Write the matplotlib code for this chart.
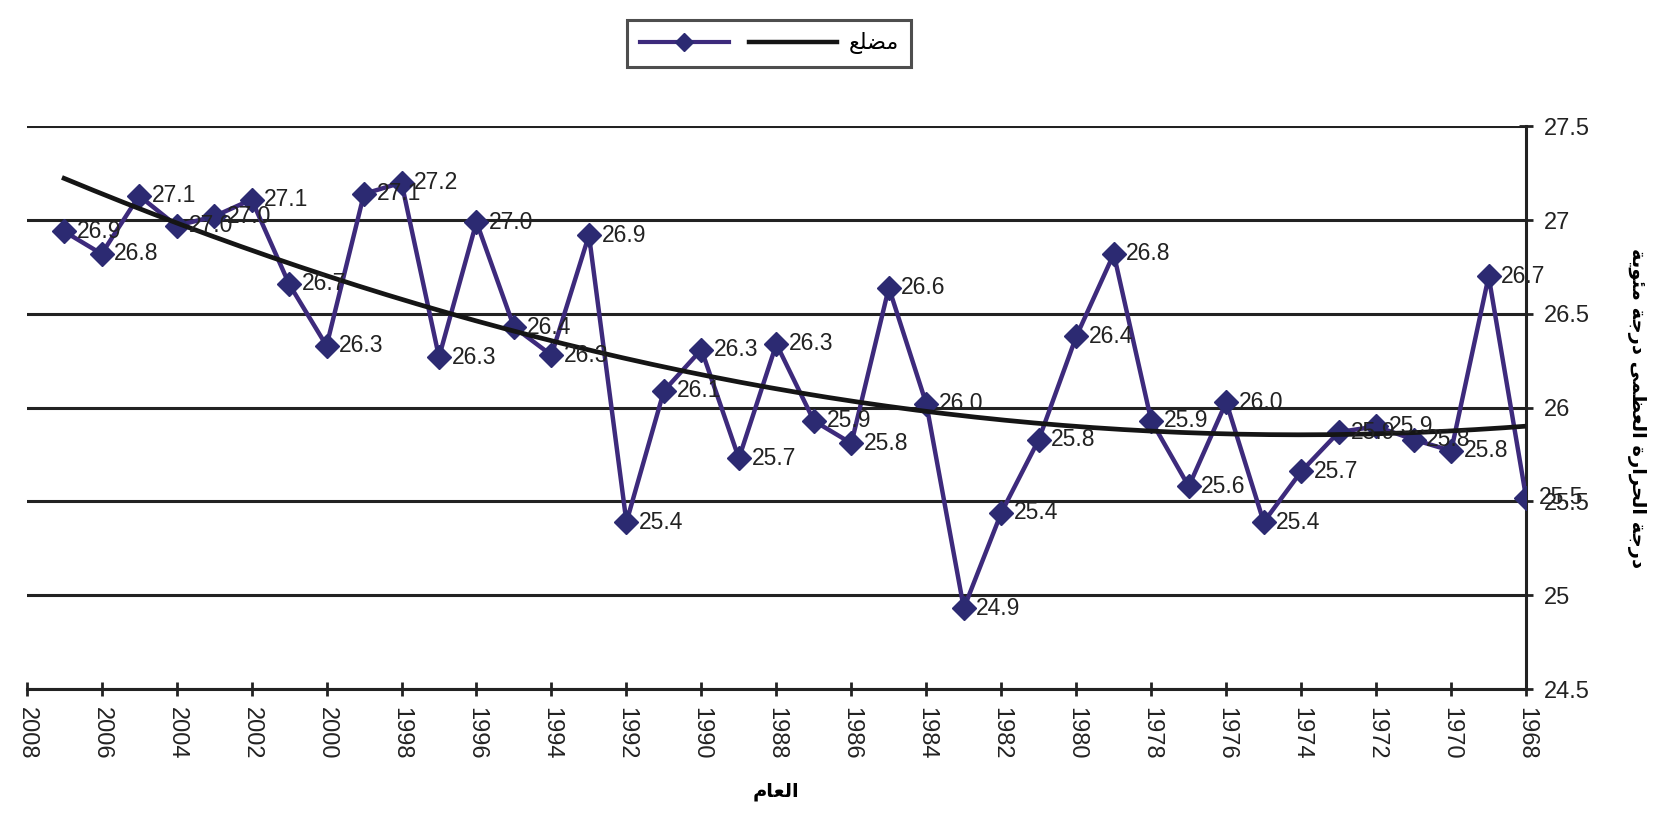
import numpy as np
import matplotlib
matplotlib.use("Agg")
import matplotlib.pyplot as plt
from matplotlib.lines import Line2D

years = list(range(2007, 1967, -1))
temps = [26.94, 26.82, 27.13, 26.97, 27.02, 27.11, 26.66, 26.33, 27.14, 27.20,
         26.27, 26.99, 26.43, 26.28, 26.92, 25.39, 26.09, 26.31, 25.73, 26.34,
         25.93, 25.81, 26.64, 26.02, 24.93, 25.44, 25.83, 26.38, 26.82, 25.93,
         25.58, 26.03, 25.39, 25.66, 25.87, 25.90, 25.83, 25.77, 26.70, 25.52]

x_ticks = list(range(2008, 1967, -2))
y_ticks = [24.5, 25, 25.5, 26, 26.5, 27, 27.5]
y_tick_labels = ["24.5", "25", "25.5", "26", "26.5", "27", "27.5"]

# Arabic text in presentation forms, visual order
legend_trend = "\uFECA\uFEE0\uFEC0\uFEE3"          # مضلع
x_label = "\uFEE1\uFE8E\uFECC\uFEDF\uFE8D"           # العام
w_daraja = "\uFE94\uFE9F\uFEAD\uFEA9"
w_harara = "\uFE93\uFEAD\uFE8D\uFEAE\uFEA4\uFEDF\uFE8D"
w_uzma = "\uFEF0\uFEE4\uFEC8\uFECC\uFEDF\uFE8D"
w_mieya = "\uFE94\uFEF3\uFEEE\uFE8C\uFEE3"
y_label = " ".join([w_mieya, w_daraja, w_uzma, w_harara, w_daraja])

plt.rcParams['font.family'] = ['Liberation Sans', 'DejaVu Sans']

fig = plt.figure(figsize=(16.65, 8.19), dpi=100)
ax = fig.add_axes([0.016, 0.1587, 0.9006, 0.687])

line_col = '#3D2A7C'
mark_col = '#2C2A72'
txt_col = '#222222'

yrs = np.array(years, dtype=float)
vals = np.array(temps)
ax.plot(yrs, vals, color=line_col, lw=3.2, marker='D', markersize=12.5,
        markerfacecolor=mark_col, markeredgecolor=mark_col, zorder=3)

coef = np.polyfit(yrs - 1987.5, vals, 2)
xs = np.linspace(yrs.max(), yrs.min(), 200)
ax.plot(xs, np.polyval(coef, xs - 1987.5), color='#151515', lw=3.4, zorder=4)

for xv, yv in zip(yrs, vals):
    ax.annotate(f"{yv:.1f}", (xv, yv), xytext=(9, 0), textcoords='offset points',
                ha='left', va='center', fontsize=16.5, color=txt_col, zorder=5)

ax.set_xlim(2008, 1968)
ax.set_ylim(24.5, 27.5)
ax.set_xticks(x_ticks)
ax.set_xticklabels([str(t) for t in x_ticks], rotation=270, fontsize=17, color=txt_col)
ax.yaxis.tick_right()
ax.yaxis.set_label_position('right')
ax.set_yticks(y_ticks)
ax.set_yticklabels(y_tick_labels, fontsize=17, color=txt_col)
ax.tick_params(axis='both', direction='inout', length=10, width=2, colors=txt_col, pad=8)

for s in ['left', 'top']:
    ax.spines[s].set_visible(False)
for s in ['right', 'bottom']:
    ax.spines[s].set_linewidth(2.2)
    ax.spines[s].set_color(txt_col)

ax.grid(axis='y', color='#222222', lw=2.2)
ax.set_axisbelow(True)

ax.set_xlabel(x_label, family='DejaVu Sans', fontsize=14, fontweight='bold', labelpad=16)
ax.set_ylabel(y_label, family='DejaVu Sans', fontsize=14, fontweight='bold',
              rotation=270, labelpad=40)

handles = [Line2D([], [], color=line_col, lw=3, marker='D', markersize=9,
                  markerfacecolor=mark_col, markeredgecolor=mark_col),
           Line2D([], [], color='#151515', lw=3.2)]
leg = fig.legend(handles, ["", legend_trend], loc='center', bbox_to_anchor=(0.462, 0.947),
                 ncol=2, frameon=True, fancybox=False, edgecolor='#222222',
                 prop={'family': 'DejaVu Sans', 'size': 16}, handlelength=4.0,
                 columnspacing=0.4, handletextpad=0.5, borderpad=0.55)
leg.get_frame().set_linewidth(2.2)

fig.savefig("out.png", dpi=100)
